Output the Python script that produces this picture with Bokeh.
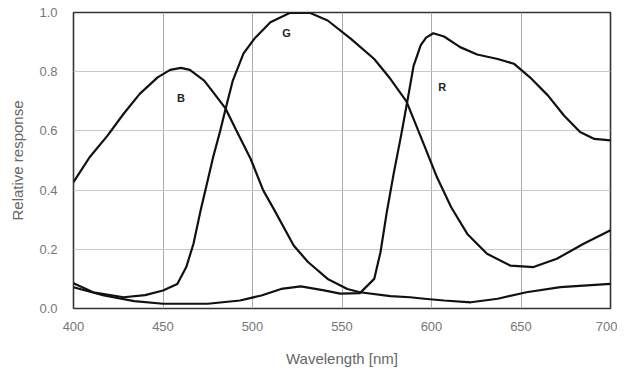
from bokeh.plotting import figure
from bokeh.models import Range1d, FixedTicker, Label
from bokeh.embed import file_html
from bokeh.resources import INLINE

# --- data ---
b_nm = [400, 409, 419, 428, 437, 447, 454, 460, 465, 473, 478, 485, 491, 499, 506, 512, 523, 531, 542, 553, 560, 577, 588, 596, 607, 622, 637, 653, 672, 700]
b_val = [0.427, 0.511, 0.584, 0.658, 0.725, 0.781, 0.806, 0.813, 0.806, 0.770, 0.731, 0.675, 0.601, 0.505, 0.399, 0.335, 0.213, 0.157, 0.100, 0.066, 0.055, 0.042, 0.038, 0.033, 0.027, 0.021, 0.033, 0.055, 0.072, 0.083]

g_nm = [400, 411, 428, 440, 450, 458, 463, 467, 471, 474.5, 478, 482, 485, 489, 495, 501, 510, 521, 532, 542, 555, 568, 577, 586, 596, 603, 611, 620, 631, 644, 657, 670, 685, 700]
g_val = [0.085, 0.055, 0.038, 0.045, 0.061, 0.083, 0.14, 0.218, 0.331, 0.421, 0.511, 0.601, 0.675, 0.770, 0.862, 0.911, 0.967, 0.999, 0.999, 0.973, 0.911, 0.843, 0.776, 0.700, 0.550, 0.444, 0.342, 0.252, 0.185, 0.145, 0.140, 0.168, 0.219, 0.264]

r_nm = [400, 417, 434, 450, 475, 493, 505, 516, 527, 540, 549, 560, 568, 571.5, 575, 579, 583, 586.5, 590, 594, 597, 601, 607, 616, 625.5, 637, 646, 655, 665, 674, 683, 691, 700]
r_val = [0.072, 0.044, 0.025, 0.016, 0.016, 0.027, 0.044, 0.066, 0.075, 0.061, 0.050, 0.052, 0.100, 0.190, 0.325, 0.460, 0.584, 0.700, 0.820, 0.890, 0.915, 0.930, 0.919, 0.883, 0.858, 0.843, 0.827, 0.781, 0.720, 0.652, 0.596, 0.573, 0.568]

label_text = ["B", "G", "R"]
label_x = [460, 519, 606]
label_y = [0.71, 0.93, 0.75]

x_ticks = [400, 450, 500, 550, 600, 650, 700]
y_ticks = [0.0, 0.2, 0.4, 0.6, 0.8, 1.0]

FONT = "Liberation Sans"

p = figure(width=617, height=371, output_backend="svg", toolbar_location=None,
           x_range=Range1d(400, 700), y_range=Range1d(0, 1.0),
           min_border_left=73, min_border_right=7, min_border_top=12, min_border_bottom=63)

p.background_fill_color = "white"
p.border_fill_color = "white"
p.outline_line_color = "#333333"
p.outline_line_width = 1.6

p.xgrid.ticker = FixedTicker(ticks=x_ticks)
p.ygrid.ticker = FixedTicker(ticks=y_ticks)
p.xgrid.grid_line_color = "#aaaaaa"
p.ygrid.grid_line_color = "#c8c8c8"
p.xgrid.grid_line_width = 1
p.ygrid.grid_line_width = 1

for ax in (p.xaxis[0], p.yaxis[0]):
    ax.axis_line_color = None
    ax.major_tick_line_color = None
    ax.minor_tick_line_color = None
    ax.major_tick_out = 0
    ax.major_tick_in = 0
    ax.minor_tick_out = 0
    ax.minor_tick_in = 0
    ax.major_label_text_font = FONT
    ax.major_label_text_font_size = "13px"
    ax.major_label_text_color = "#777777"
    ax.axis_label_text_font = FONT
    ax.axis_label_text_font_size = "15px"
    ax.axis_label_text_font_style = "normal"
    ax.axis_label_text_color = "#666666"

p.xaxis.ticker = FixedTicker(ticks=x_ticks)
p.yaxis.ticker = FixedTicker(ticks=y_ticks)
p.xaxis.major_label_overrides = {t: str(t) for t in x_ticks}
p.yaxis.major_label_overrides = {t: f"{t:.1f}" for t in y_ticks}
p.xaxis.major_label_standoff = 13
p.yaxis.major_label_standoff = 16
p.xaxis.axis_label = "Wavelength [nm]"
p.yaxis.axis_label = "Relative response"
p.xaxis.axis_label_standoff = 16
p.yaxis.axis_label_standoff = 10

for xs, ys in ((b_nm, b_val), (g_nm, g_val), (r_nm, r_val)):
    p.line(xs, ys, line_color="#111111", line_width=2.2, line_join="round")

for t, lx, ly in zip(label_text, label_x, label_y):
    p.add_layout(Label(x=lx, y=ly, text=t, text_font=FONT, text_font_size="11px",
                       text_font_style="bold", text_color="#222222",
                       text_align="center", text_baseline="middle"))

open("out.html", "w").write(file_html(p, INLINE))
